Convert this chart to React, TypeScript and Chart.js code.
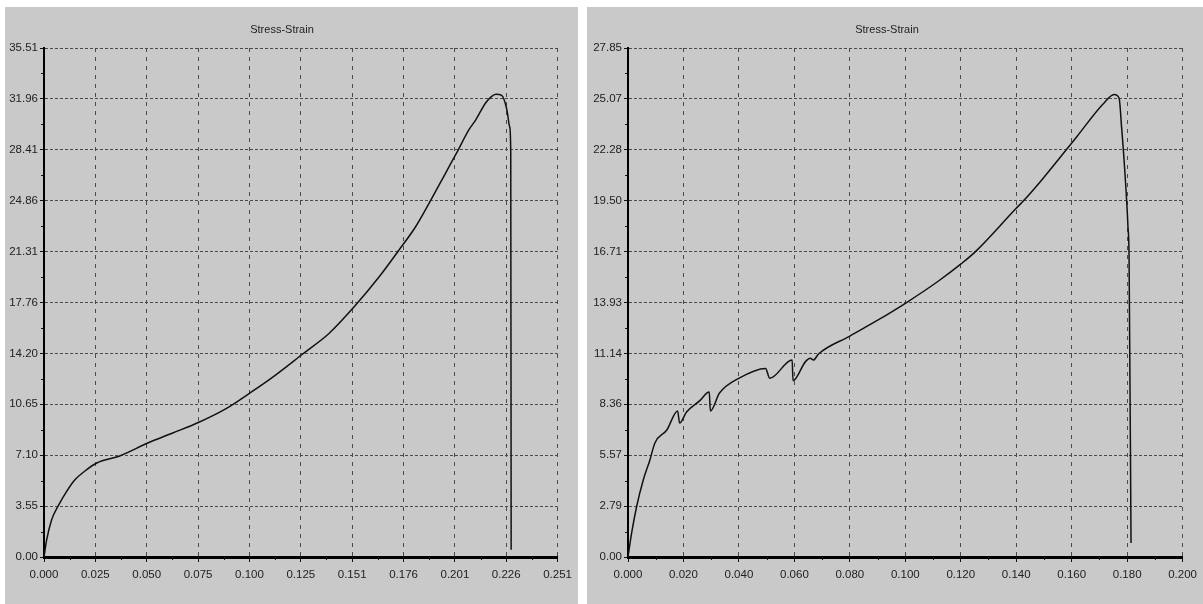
import React, { useEffect, useRef } from "react";
import { Chart, registerables } from "chart.js";

Chart.register(...registerables);

const chartTitle = "Stress-Strain";

// Left test
const leftStrain = [0, 0.0013, 0.0037, 0.007, 0.011, 0.015, 0.02, 0.0258, 0.037, 0.0507, 0.0629, 0.076, 0.0892, 0.1004, 0.1118, 0.1264, 0.1394, 0.1516, 0.1638, 0.1735, 0.1816, 0.1889, 0.1962, 0.2024, 0.2076, 0.211, 0.2158, 0.2185, 0.2208, 0.2237, 0.2262, 0.2276, 0.2281, 0.2283];
const leftStress = [0, 1.19, 2.58, 3.58, 4.56, 5.37, 6.0, 6.56, 7.05, 7.95, 8.65, 9.42, 10.37, 11.42, 12.55, 14.16, 15.61, 17.46, 19.55, 21.42, 23.04, 24.86, 26.77, 28.39, 29.79, 30.5, 31.67, 32.1, 32.28, 32.2, 31.2, 30.0, 28.2, 0.5];
const leftXTicks = ["0.000", "0.025", "0.050", "0.075", "0.100", "0.125", "0.151", "0.176", "0.201", "0.226", "0.251"];
const leftYTicks = ["0.00", "3.55", "7.10", "10.65", "14.20", "17.76", "21.31", "24.86", "28.41", "31.96", "35.51"];

// Right test
const rightStrain = [0, 0.0013, 0.0031, 0.0055, 0.0079, 0.0097, 0.014, 0.0179, 0.0186, 0.0211, 0.0258, 0.0293, 0.0297, 0.033, 0.0401, 0.0496, 0.0511, 0.0592, 0.0595, 0.064, 0.0657, 0.0669, 0.0687, 0.08, 0.0902, 0.1003, 0.1116, 0.1202, 0.1253, 0.14, 0.1427, 0.1492, 0.1617, 0.1714, 0.1753, 0.1771, 0.178, 0.1789, 0.1803, 0.1807, 0.1814];
const rightStress = [0, 1.3, 2.75, 4.21, 5.31, 6.24, 6.95, 7.99, 7.33, 7.93, 8.54, 9.03, 7.99, 8.97, 9.79, 10.32, 9.78, 10.78, 9.65, 10.69, 10.87, 10.78, 11.11, 12.09, 12.97, 13.91, 15.06, 16.05, 16.71, 19.08, 19.5, 20.63, 22.97, 24.8, 25.3, 25.1, 23.5, 21.7, 18.06, 16.25, 0.77];
const rightXTicks = ["0.000", "0.020", "0.040", "0.060", "0.080", "0.100", "0.120", "0.140", "0.160", "0.180", "0.200"];
const rightYTicks = ["0.00", "2.79", "5.57", "8.36", "11.14", "13.93", "16.71", "19.50", "22.28", "25.07", "27.85"];

const FONT = "'Liberation Sans', Arial, sans-serif";
const PANEL_BG = "#c9c9c9";

type PanelProps = {
  left: number;
  top: number;
  width: number;
  height: number;
  strain: number[];
  stress: number[];
  xTicks: string[];
  yTicks: string[];
  yAxisWidth: number;
  padRight: number;
  xAxisHeight: number;
};

const minorTicks = {
  id: "minorTicks",
  afterDraw(chart: any) {
    const ctx = chart.ctx;
    const xs = chart.scales.x;
    const ys = chart.scales.y;
    ctx.save();
    ctx.strokeStyle = "#111";
    ctx.lineWidth = 1;
    const nx = xs.ticks.length - 1;
    for (let i = 0; i < nx; i++) {
      const v = (xs.ticks[i].value + xs.ticks[i + 1].value) / 2;
      const px = Math.round(xs.getPixelForValue(v)) + 0.5;
      ctx.beginPath();
      ctx.moveTo(px, ys.bottom);
      ctx.lineTo(px, ys.bottom + 3);
      ctx.stroke();
    }
    const ny = ys.ticks.length - 1;
    for (let i = 0; i < ny; i++) {
      const v = (ys.ticks[i].value + ys.ticks[i + 1].value) / 2;
      const py = Math.round(ys.getPixelForValue(v)) + 0.5;
      ctx.beginPath();
      ctx.moveTo(xs.left - 3, py);
      ctx.lineTo(xs.left, py);
      ctx.stroke();
    }
    ctx.restore();
  },
};

function Panel(p: PanelProps) {
  const ref = useRef<HTMLCanvasElement | null>(null);
  useEffect(() => {
    if (!ref.current) return;
    const xMax = parseFloat(p.xTicks[p.xTicks.length - 1]);
    const yMax = parseFloat(p.yTicks[p.yTicks.length - 1]);
    const xStep = xMax / (p.xTicks.length - 1);
    const yStep = yMax / (p.yTicks.length - 1);
    const data = p.strain.map((s, i) => ({ x: s, y: p.stress[i] }));
    const chart = new Chart(ref.current, {
      type: "line",
      data: {
        datasets: [
          {
            data,
            borderColor: "#111",
            borderWidth: 1.5,
            pointRadius: 0,
            cubicInterpolationMode: "monotone",
            fill: false,
          },
        ],
      },
      plugins: [minorTicks],
      options: {
        responsive: false,
        animation: false,
        devicePixelRatio: 1,
        layout: { padding: { left: 0, right: p.padRight, top: 0, bottom: 0 } },
        plugins: {
          legend: { display: false },
          tooltip: { enabled: false },
          title: {
            display: true,
            text: chartTitle,
            color: "#222",
            font: { family: FONT, size: 11, weight: "normal" },
            padding: { top: 16.4, bottom: 11.4 },
          },
        },
        scales: {
          x: {
            type: "linear",
            min: 0,
            max: xMax,
            afterBuildTicks: (scale: any) => {
              scale.ticks = p.xTicks.map((_, i) => ({ value: i * xStep }));
            },
            afterFit: (scale: any) => {
              scale.height = p.xAxisHeight;
            },
            ticks: {
              autoSkip: false,
              maxRotation: 0,
              padding: 6,
              color: "#222",
              font: { family: FONT, size: 11.5 },
              callback: (_v: any, i: number) => p.xTicks[i],
            },
            grid: {
              color: "#4a4a4a",
              lineWidth: 1,
              tickLength: 5,
              tickColor: "#111",
              tickWidth: 1,
              tickBorderDash: [],
            },
            border: { display: true, color: "#000", width: 3, dash: [4, 5] },
          },
          y: {
            type: "linear",
            min: 0,
            max: yMax,
            afterBuildTicks: (scale: any) => {
              scale.ticks = p.yTicks.map((_, i) => ({ value: i * yStep }));
            },
            afterFit: (scale: any) => {
              scale.width = p.yAxisWidth;
            },
            ticks: {
              autoSkip: false,
              padding: 2,
              color: "#222",
              font: { family: FONT, size: 11.5 },
              callback: (_v: any, i: number) => p.yTicks[i],
            },
            grid: {
              color: "#4a4a4a",
              lineWidth: 1,
              tickLength: 4,
              tickColor: "#111",
              tickWidth: 1,
              tickBorderDash: [],
            },
            border: { display: true, color: "#000", width: 2, dash: [3, 2] },
          },
        },
      },
    } as any);
    return () => chart.destroy();
  }, []);
  return (
    <canvas
      ref={ref}
      width={p.width}
      height={p.height}
      style={{
        position: "absolute",
        left: p.left,
        top: p.top,
        width: p.width,
        height: p.height,
        background: PANEL_BG,
        display: "block",
      }}
    />
  );
}

export default function App() {
  return (
    <div
      style={{
        position: "fixed",
        left: 0,
        top: 0,
        width: 1203,
        height: 604,
        background: "#fff",
        overflow: "hidden",
      }}
    >
      <Panel
        left={5}
        top={7}
        width={573}
        height={597}
        strain={leftStrain}
        stress={leftStress}
        xTicks={leftXTicks}
        yTicks={leftYTicks}
        yAxisWidth={39}
        padRight={19}
        xAxisHeight={47}
      />
      <Panel
        left={587}
        top={7}
        width={616}
        height={597}
        strain={rightStrain}
        stress={rightStress}
        xTicks={rightXTicks}
        yTicks={rightYTicks}
        yAxisWidth={41}
        padRight={16}
        xAxisHeight={47}
      />
    </div>
  );
}
